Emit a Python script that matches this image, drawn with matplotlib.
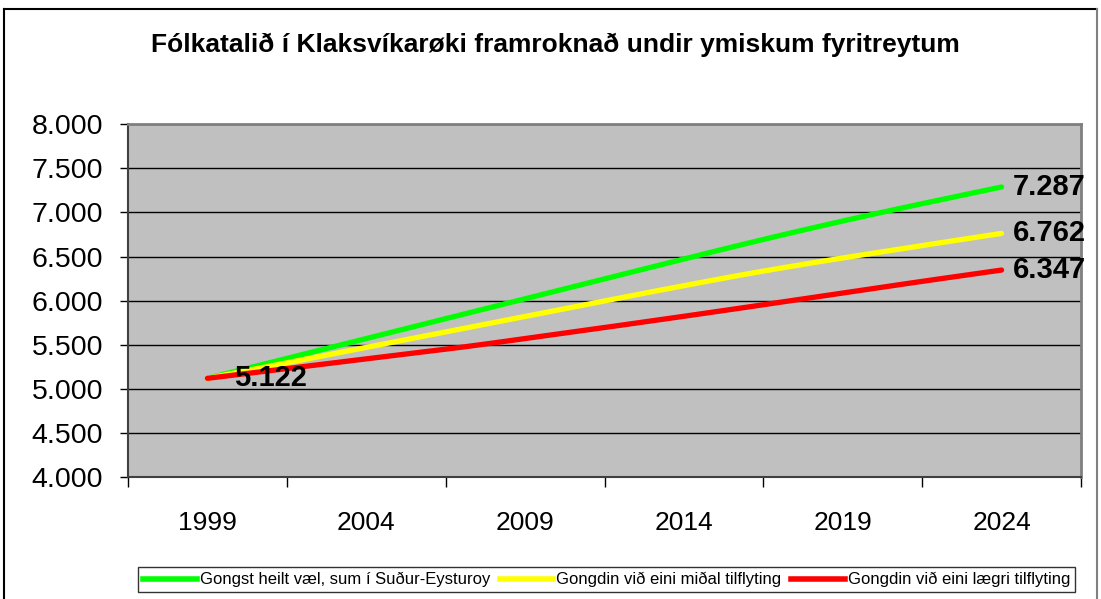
import numpy as np
import matplotlib.pyplot as plt
from matplotlib.ticker import FuncFormatter
from matplotlib.lines import Line2D

plt.rcParams['font.family'] = ['Liberation Sans', 'DejaVu Sans']

years = list(range(1999, 2025))

# Gongst heilt væl, sum í Suður-Eysturoy
green = [5122, 5212, 5302, 5392, 5482, 5572, 5662, 5752, 5842, 5932,
         6022, 6112, 6202, 6292, 6382, 6472, 6562, 6650, 6736, 6820,
         6902, 6982, 7060, 7136, 7212, 7287]
# Gongdin við eini miðal tilflyting
yellow = [5122, 5192, 5262, 5332, 5402, 5472, 5542, 5612, 5682, 5752,
          5822, 5892, 5962, 6032, 6102, 6170, 6238, 6304, 6366, 6426,
          6484, 6540, 6596, 6652, 6707, 6762]
# Gongdin við eini lægri tilflyting
red = [5122, 5166, 5210, 5254, 5298, 5342, 5386, 5430, 5474, 5522,
       5572, 5622, 5672, 5722, 5773, 5824, 5876, 5928, 5981, 6034,
       6087, 6140, 6193, 6245, 6296, 6347]

labels = ['Gongst heilt væl, sum í Suður-Eysturoy',
          'Gongdin við eini miðal tilflyting',
          'Gongdin við eini lægri tilflyting']
colors = ['#00FF00', '#FFFF00', '#FF0000']
tick_years = [1999, 2004, 2009, 2014, 2019, 2024]

fig = plt.figure(figsize=(11.01, 5.99), dpi=100)
ax = fig.add_axes([0.1163, 0.2029, 0.8655, 0.5901])
ax.set_facecolor('#C0C0C0')

for vals, c, lab in zip([green, yellow, red], colors, labels):
    ax.plot(years, vals, color=c, lw=3.8, solid_capstyle='round', label=lab, zorder=3)
    ax.annotate(f"{vals[-1]:,}".replace(',', '.'), (years[-1], vals[-1]),
                xytext=(8, 0), textcoords='offset points', va='center', ha='left',
                fontsize=21, fontweight='bold', zorder=4)

ax.annotate(f"{red[0]:,}".replace(',', '.'), (years[0], red[0]),
            xytext=(19, 0), textcoords='offset points', va='center', ha='left',
            fontsize=21, fontweight='bold', zorder=4)

ax.set_xlim(1996.5, 2026.5)
ax.set_ylim(4000, 8000)
ax.set_yticks(np.arange(4000, 8001, 500))
ax.yaxis.set_major_formatter(FuncFormatter(lambda v, p: f"{int(v):,}".replace(',', '.')))
ax.grid(axis='y', color='black', lw=1)
ax.set_axisbelow(True)

ax.set_xticks(tick_years)
ax.set_xticks(np.arange(1996.5, 2027, 5), minor=True)
ax.tick_params(axis='x', which='major', length=0, pad=24, labelsize=19)
ax.tick_params(axis='x', which='minor', length=7, width=1)
ax.tick_params(axis='y', length=6, width=1, pad=12, labelsize=20.5)

for s in ['top', 'right']:
    ax.spines[s].set_color('#808080')
    ax.spines[s].set_linewidth(2)
for s in ['left', 'bottom']:
    ax.spines[s].set_color('#404040')
    ax.spines[s].set_linewidth(1.5)

fig.text(0.504, 0.925, 'Fólkatalið í Klaksvíkarøki framroknað undir ymiskum fyritreytum',
         ha='center', va='center', fontsize=19, fontweight='bold')

handles = [Line2D([], [], color=c, lw=4) for c in colors]
leg = fig.legend(handles, labels, loc='center', bbox_to_anchor=(0.551, 0.032), ncol=3,
                 fontsize=12, frameon=True, fancybox=False, handlelength=3.2,
                 handletextpad=0.18, columnspacing=0.6, borderpad=0.3, borderaxespad=0)
leg.get_frame().set_edgecolor('black')
leg.get_frame().set_linewidth(1)

# chart area border
fig.add_artist(Line2D([4/1101, 4/1101], [0, 1 - 9/599], color='black', lw=1.5))
fig.add_artist(Line2D([4/1101, 1097/1101], [1 - 9/599, 1 - 9/599], color='black', lw=1.5))
fig.add_artist(Line2D([1097/1101, 1097/1101], [0, 1 - 9/599], color='#808080', lw=1.5))

fig.savefig('out.png', dpi=100)
